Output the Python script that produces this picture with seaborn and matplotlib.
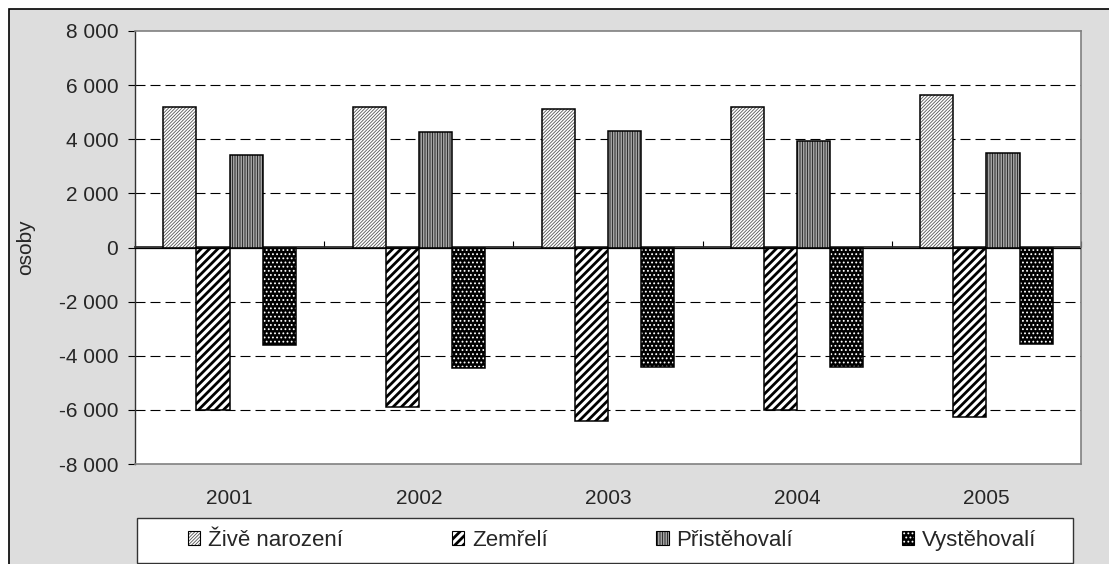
import matplotlib
matplotlib.use("Agg")
import matplotlib.pyplot as plt
import matplotlib.ticker as mticker
import numpy as np
import pandas as pd
import seaborn as sns
from matplotlib.patches import Rectangle

# data
years = ["2001", "2002", "2003", "2004", "2005"]
zive_narozeni = [5200, 5200, 5100, 5200, 5650]
zemreli = [-6000, -5900, -6400, -6000, -6250]
pristehovali = [3400, 4250, 4300, 3950, 3500]
vystehovali = [-3600, -4450, -4400, -4400, -3550]
series_names = ["Živě narození", "Zemřelí", "Přistěhovalí", "Vystěhovalí"]
y_ticks = list(range(-8000, 8001, 2000))

W, H = 1109, 564
FS = 15

sns.set_theme(style="white")
plt.rcParams["font.family"] = ["Liberation Sans", "DejaVu Sans"]

df = pd.DataFrame({
    "rok": years * 4,
    "osoby": zive_narozeni + zemreli + pristehovali + vystehovali,
    "serie": [s for s in series_names for _ in years],
})

fig = plt.figure(figsize=(W / 100, H / 100), dpi=100)
fig.patch.set_facecolor("white")
# grey chart-area background with black border (cropped on right/bottom)
fig.add_artist(Rectangle((9 / W, -0.2), 1.2, 1.2 - 9 / H, transform=fig.transFigure,
                         facecolor="#dddddd", edgecolor="black", lw=1.2, zorder=-5))

ax = fig.add_axes([135 / W, 1 - 464 / H, (1081 - 135) / W, (464 - 31) / H])
ax.set_facecolor("white")

sns.barplot(data=df, x="rok", y="osoby", hue="serie", hue_order=series_names,
            order=years, palette=["white"] * 4, width=0.7, legend=False,
            edgecolor="black", linewidth=1.1, ax=ax, zorder=3)

styles = [
    # (face, hatch, hatch colour, hatch linewidth)
    ("white", "//////////", "#555555", 0.6),
    ("white", "////", "black", 2.0),
    ("white", "||||||||||", "#333333", 0.8),
    ("black", "....", "white", 0.8),
]


def apply_style(p, style):
    face, hatch, hcol, hlw = style
    p.set_facecolor(face)
    p.set_edgecolor("black")
    p.set_hatch(hatch)
    p._hatch_color = matplotlib.colors.to_rgba(hcol)
    if hasattr(p, "set_hatch_linewidth"):
        p.set_hatch_linewidth(hlw)


for cont, st in zip(ax.containers, styles):
    for p in cont.patches:
        apply_style(p, st)

ax.set_ylim(-8000, 8000)
ax.set_xlim(-0.5, len(years) - 0.5)
ax.set_yticks(y_ticks)
ax.yaxis.set_major_formatter(mticker.FuncFormatter(
    lambda v, _: f"{v:,.0f}".replace(",", " ")))
ax.tick_params(axis="y", direction="out", length=5, width=0.8, color="black",
               labelsize=FS, pad=7, left=True)
ax.tick_params(axis="x", length=0, labelsize=FS, pad=18)
ax.set_xlabel("")
ax.set_ylabel("osoby", fontsize=FS)
ax.yaxis.set_label_coords(-0.106, 0.5)

for v in y_ticks:
    if v not in (0, 8000, -8000):
        ax.axhline(v, color="black", lw=0.8, linestyle=(0, (9, 4.5)), zorder=1)
ax.axhline(0, color="black", lw=0.9, zorder=4)

for side in ["top", "right", "bottom"]:
    ax.spines[side].set_color("#808080")
    ax.spines[side].set_linewidth(1.2)
ax.spines["left"].set_color("#333333")
ax.spines["left"].set_linewidth(1.0)

# category separators on the zero line
sec = ax.secondary_xaxis(0.5)
sep = np.arange(-0.5, len(years), 1.0)
sec.set_xticks(sep, labels=[""] * len(sep))
sec.tick_params(direction="out", length=4, width=0.8, color="black")
sec.spines["bottom"].set_visible(False)

# legend box
fig.add_artist(Rectangle((137 / W, 1 - 563 / H), (1073 - 137) / W, 45 / H,
                         transform=fig.transFigure, facecolor="white",
                         edgecolor="#333333", lw=1.0, zorder=2))
handles = [c.patches[0] for c in ax.containers]
leg = fig.legend(handles, series_names, loc="center",
                 bbox_to_anchor=(612 / W, 1 - 540.5 / H),
                 ncol=4, frameon=False, fontsize=16,
                 handlelength=0.55, handleheight=0.55, handletextpad=0.35,
                 columnspacing=4.9, borderaxespad=0)
leg.set_zorder(3)
for h, st in zip(leg.legend_handles, styles):
    apply_style(h, st)
    h.set_linewidth(0.8)

fig.savefig("out.png", dpi=100)
